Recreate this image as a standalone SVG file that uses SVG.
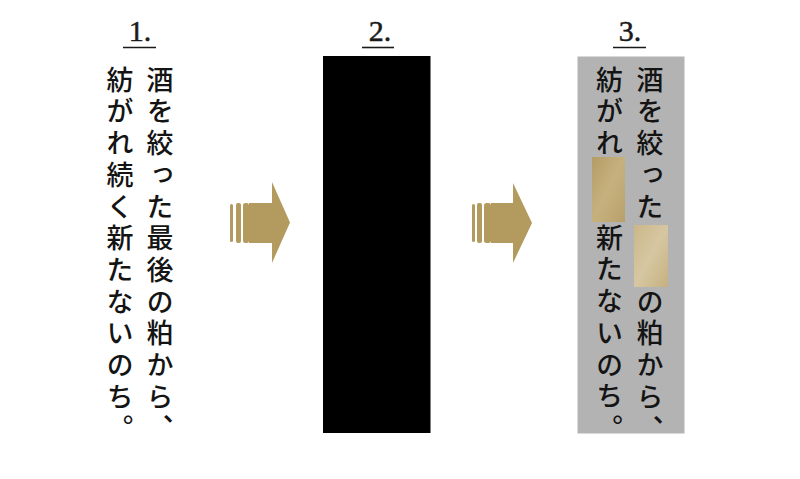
<svg xmlns="http://www.w3.org/2000/svg" width="800" height="479" viewBox="0 0 800 479">
<style>
.num{font-family:"Liberation Serif","DejaVu Serif",serif;font-size:30px;fill:#1a1a1a;stroke:#1a1a1a;stroke-width:0.5;text-anchor:middle}
.ul{stroke:#1a1a1a;stroke-width:1.6}
.vt{font-family:"Noto Sans CJK JP","Noto Sans CJK SC",sans-serif;font-size:27px;font-weight:500;fill:#141414;writing-mode:vertical-rl;letter-spacing:4.7px}
.arr{fill:#b39a5e}
</style>
<defs>
<linearGradient id="g1" x1="0" y1="0" x2="1" y2="1">
<stop offset="0" stop-color="#b59c66"/>
<stop offset="0.5" stop-color="#c6b17e"/>
<stop offset="1" stop-color="#b8a06a"/>
</linearGradient>
<linearGradient id="g2" x1="0" y1="0" x2="1" y2="1">
<stop offset="0" stop-color="#cbb78a"/>
<stop offset="0.5" stop-color="#d6c7a2"/>
<stop offset="1" stop-color="#c6b07f"/>
</linearGradient>
</defs>
<rect width="800" height="479" fill="#ffffff"/>

<g id="panel1">
<text class="num" x="140" y="41">1.</text>
<line class="ul" x1="123" y1="47.5" x2="156" y2="47.5"/>
<text class="vt" x="160" y="66">酒を絞った最後の粕から、</text>
<text class="vt" x="120" y="66">紡がれ続く新たないのち。</text>
</g>

<g id="panel2">
<text class="num" x="380" y="41">2.</text>
<line class="ul" x1="362" y1="47.5" x2="394" y2="47.5"/>
<rect x="323" y="56" width="107.5" height="377" fill="#000000"/>
</g>

<g id="panel3">
<text class="num" x="630" y="41">3.</text>
<line class="ul" x1="613" y1="47.5" x2="646" y2="47.5"/>
<rect x="577.5" y="56.5" width="107" height="377" fill="#b3b3b3"/>
<text class="vt" x="650" y="66">酒を絞った</text>
<text class="vt" x="650" y="288">の粕から、</text>
<text class="vt" x="609.5" y="66">紡がれ</text>
<text class="vt" x="609.5" y="224">新たないのち。</text>
<rect x="592" y="157" width="33" height="65" fill="url(#g1)"/>
<rect x="634" y="225" width="34" height="62" fill="url(#g2)"/>
</g>

<g id="connectors">
<g id="arrow1" class="arr">
<rect x="230" y="204" width="3" height="38" rx="1.5"/>
<rect x="236" y="203" width="5" height="40" rx="2"/>
<rect x="243" y="203" width="6" height="40" rx="2.5"/>
<path d="M249,203 H272 V182 L290,222.5 L272,263 V243 H249 Z"/>
</g>
<g id="arrow2" class="arr">
<rect x="472" y="204" width="3" height="38" rx="1.5"/>
<rect x="477" y="203" width="5" height="40" rx="2"/>
<rect x="484" y="203" width="7" height="40" rx="2.5"/>
<path d="M491,203 H513 V183 L532,223 L513,263 V243 H491 Z"/>
</g>
</g>
</svg>
